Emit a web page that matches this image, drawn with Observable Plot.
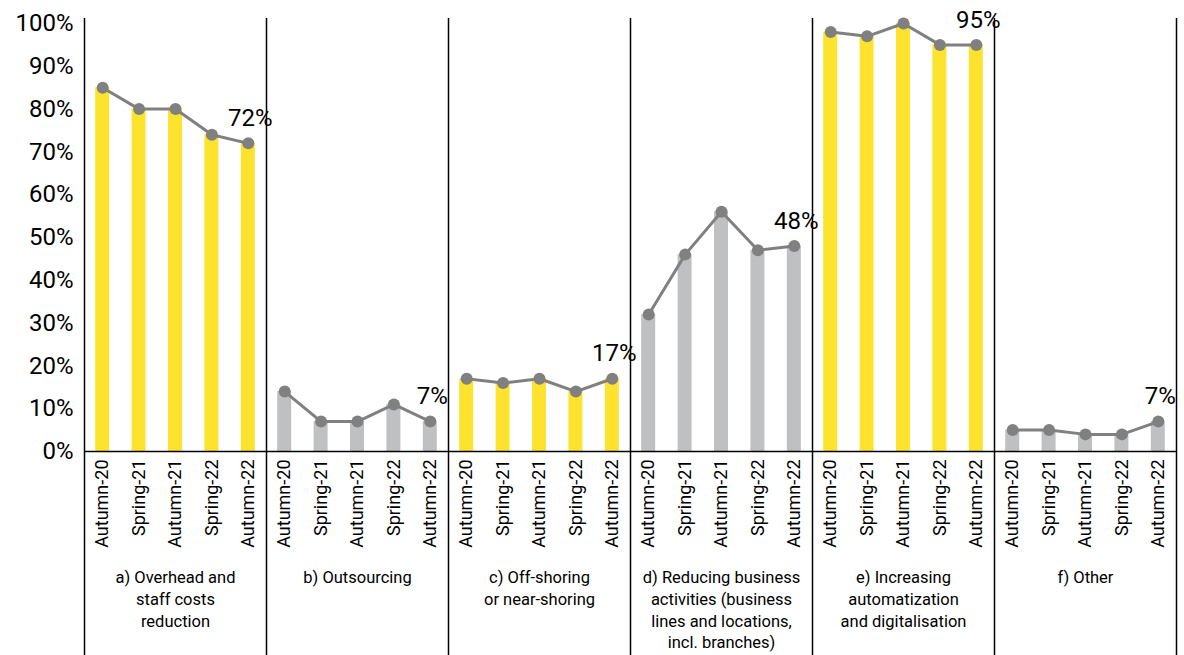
<!DOCTYPE html>
<html><head><meta charset="utf-8">
<script src="https://cdn.jsdelivr.net/npm/d3@7"></script>
<script src="https://cdn.jsdelivr.net/npm/@observablehq/plot@0.6"></script>
<style>body{margin:0;background:#fff}</style>
</head><body><div id="chart"></div>
<script>
const periods = ["Autumn-20", "Spring-21", "Autumn-21", "Spring-22", "Autumn-22"];
const groups = [
  "a) Overhead and\nstaff costs\nreduction",
  "b) Outsourcing",
  "c) Off-shoring\nor near-shoring",
  "d) Reducing business\nactivities (business\nlines and locations,\nincl. branches)",
  "e) Increasing\nautomatization\nand digitalisation",
  "f) Other"
];
const highlighted = [true, false, true, false, true, false];
const overheadValues = [85, 80, 80, 74, 72];
const outsourcingValues = [14, 7, 7, 11, 7];
const offshoringValues = [17, 16, 17, 14, 17];
const reducingValues = [32, 46, 56, 47, 48];
const automationValues = [98, 97, 100, 95, 95];
const otherValues = [5, 5, 4, 4, 7];
const yTicks = [0, 10, 20, 30, 40, 50, 60, 70, 80, 90, 100];

const series = [overheadValues, outsourcingValues, offshoringValues, reducingValues, automationValues, otherValues];
const YELLOW = "#FDE32E", GREY = "#BFC0C2", LINE = "#808080";

const rows = [];
groups.forEach((g, gi) => periods.forEach((p, pi) => rows.push({
  g: gi, key: gi + "|" + p, period: p, pi, value: series[gi][pi], hl: highlighted[gi]
})));
const keys = rows.map(d => d.key);
const W = 1184, H = 655, mL = 84, mR = 8, mT = 23, mB = 204;
const step = (W - mL - mR) / keys.length;
const barW = 14;
const firstKeys = groups.map((g, gi) => gi + "|" + periods[0]);
const lastRows = rows.filter(d => d.pi === periods.length - 1);
const midRows = groups.map((g, gi) => ({key: gi + "|" + periods[2], label: g}));

const chart = Plot.plot({
  width: W, height: H,
  marginLeft: mL, marginRight: mR, marginTop: mT, marginBottom: mB,
  style: {fontFamily: "Roboto, sans-serif", color: "#000", background: "#fff"},
  x: {type: "band", domain: keys, padding: 0, round: false},
  y: {domain: [0, 100]},
  marks: [
    Plot.barY(rows, {x: "key", y: "value", fill: d => d.hl ? YELLOW : GREY,
      insetLeft: (step - barW) / 2, insetRight: (step - barW) / 2}),
    Plot.ruleY([0], {stroke: "#000", strokeWidth: 1.5}),
    Plot.ruleX(firstKeys, {x: d => d, dx: -step / 2, stroke: "#000", strokeWidth: 1.5, insetTop: -5, insetBottom: -210}),
    Plot.ruleX([keys[keys.length - 1]], {x: d => d, dx: step / 2, stroke: "#000", strokeWidth: 1.5, insetTop: -5, insetBottom: -210}),
    Plot.line(rows, {x: "key", y: "value", z: "g", stroke: LINE, strokeWidth: 3}),
    Plot.dot(rows, {x: "key", y: "value", r: 6, fill: LINE}),
    Plot.text(lastRows, {x: "key", y: "value", text: d => d.value + "%", dy: -25, dx: 2, fontSize: 24, fill: "#000"}),
    Plot.axisX({tickFormat: d => d.split("|")[1], tickRotate: -90, tickSize: 0, tickPadding: 8, fontSize: 18, label: null}),
    Plot.axisY({ticks: yTicks, tickFormat: d => d + "%", tickSize: 0, tickPadding: 11, fontSize: 24, label: null}),
    Plot.text(midRows, {x: "key", frameAnchor: "bottom", dy: 116, text: "label", lineAnchor: "top", fontSize: 16.5, lineHeight: 1.32, fill: "#000"})
  ]
});
document.getElementById("chart").appendChild(chart);
</script>
</body></html>
